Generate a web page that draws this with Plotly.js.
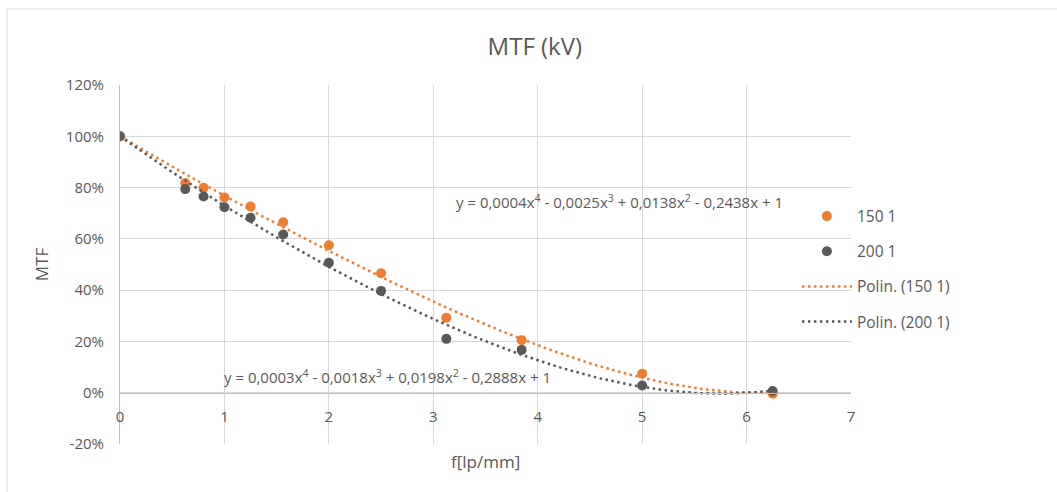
<!DOCTYPE html>
<html>
<head>
<meta charset="utf-8">
<script src="https://cdn.plot.ly/plotly-3.0.1.min.js"></script>
<style>html,body{margin:0;padding:0;background:#fff;}#chart{width:1057px;height:492px;}</style>
</head>
<body>
<div id="chart"></div>
<script>
// Spatial frequencies (lp/mm)
const freq = [0, 0.625, 0.8, 1, 1.25, 1.5625, 2, 2.5, 3.125, 3.846, 5, 6.25];
// MTF values, series "150 1"
const mtf150 = [1.00, 0.818, 0.799, 0.761, 0.726, 0.665, 0.575, 0.466, 0.292, 0.205, 0.074, -0.004];
// MTF values, series "200 1"
const mtf200 = [1.00, 0.794, 0.765, 0.723, 0.682, 0.617, 0.507, 0.397, 0.210, 0.167, 0.028, 0.007];
// Trendline equation coefficients (constant, x, x^2, x^3, x^4) as printed on the chart
const coef150 = [1, -0.2438, 0.0138, -0.0025, 0.0004];
const coef200 = [1, -0.2888, 0.0198, -0.0018, 0.0003];
// Trendline intercept (fixed, as in the printed equations)
const intercept = 1;
const seriesNames = ["150 1", "200 1", "Polin. (150 1)", "Polin. (200 1)"];
const yTickVals = [-0.2, 0, 0.2, 0.4, 0.6, 0.8, 1.0, 1.2];
const yTickText = ["-20%", "0%", "20%", "40%", "60%", "80%", "100%", "120%"];
const xTickVals = [0, 1, 2, 3, 4, 5, 6, 7];

// Least-squares polynomial fit (degree 4) with fixed intercept, like the spreadsheet trendline
function polyFit(xs, ys, deg, b0) {
  const n = deg; // unknowns: coefficients of x^1..x^deg
  const A = [];
  for (let i = 0; i < n; i++) {
    A.push(new Array(n + 1).fill(0));
    for (let j = 0; j < n; j++) A[i][j] = xs.reduce((s, x) => s + Math.pow(x, i + j + 2), 0);
    A[i][n] = xs.reduce((s, x, k) => s + (ys[k] - b0) * Math.pow(x, i + 1), 0);
  }
  for (let c = 0; c < n; c++) {
    let p = c;
    for (let r = c + 1; r < n; r++) if (Math.abs(A[r][c]) > Math.abs(A[p][c])) p = r;
    [A[c], A[p]] = [A[p], A[c]];
    for (let r = 0; r < n; r++) {
      if (r === c) continue;
      const f = A[r][c] / A[c][c];
      for (let k = c; k <= n; k++) A[r][k] -= f * A[c][k];
    }
  }
  return [b0].concat(A.map((row, i) => row[n] / row[i]));
}
function polyEval(c, x) { let s = 0; for (let i = c.length - 1; i >= 0; i--) s = s * x + c[i]; return s; }
function fmtCoef(v) { return Math.abs(v).toFixed(4).replace('.', ','); }
function eqText(c) {
  const sgn = v => (v < 0 ? ' - ' : ' + ');
  return 'y = ' + fmtCoef(c[4]) + 'x<sup>4</sup>' + sgn(c[3]) + fmtCoef(c[3]) + 'x<sup>3</sup>' +
    sgn(c[2]) + fmtCoef(c[2]) + 'x<sup>2</sup>' + sgn(c[1]) + fmtCoef(c[1]) + 'x' + sgn(c[0]) + Math.abs(c[0]);
}
const fit150 = polyFit(freq, mtf150, 4, intercept);
const fit200 = polyFit(freq, mtf200, 4, intercept);
const xMin = Math.min(...freq), xMax = Math.max(...freq);
const trendX = [];
for (let i = 0; i <= 125; i++) trendX.push(xMin + (xMax - xMin) * i / 125);

const orange = '#ED7D31', gray = '#595959', txt = '#595959', grid = '#d9d9d9';
const font = 'Open Sans, sans-serif';

const traces = [
  {x: freq, y: mtf150, type: 'scatter', mode: 'markers', name: seriesNames[0], legendgroup: 'a',
   marker: {color: orange, size: 10}},
  {x: freq, y: mtf200, type: 'scatter', mode: 'markers', name: seriesNames[1], legendgroup: 'b',
   marker: {color: gray, size: 10}},
  {x: trendX, y: trendX.map(x => polyEval(fit150, x)), type: 'scatter', mode: 'lines', name: seriesNames[2], legendgroup: 'c',
   line: {color: orange, width: 2.5, dash: '2.5px,3.5px'}},
  {x: trendX, y: trendX.map(x => polyEval(fit200, x)), type: 'scatter', mode: 'lines', name: seriesNames[3], legendgroup: 'd',
   line: {color: gray, width: 2.5, dash: '2.5px,3.5px'}}
];

const layout = {
  width: 1057, height: 492,
  margin: {l: 120, r: 206, t: 85, b: 48},
  paper_bgcolor: '#fff', plot_bgcolor: '#fff',
  font: {family: font, color: txt, size: 15},
  title: {text: 'MTF (kV)', x: 0.506, xref: 'container', xanchor: 'center', y: 0.905, yref: 'container', yanchor: 'middle',
          font: {family: font, size: 24, color: txt}},
  xaxis: {range: [0, 7], tickvals: xTickVals, showgrid: true, gridcolor: grid, gridwidth: 1,
          zeroline: false, showline: true, linecolor: '#bfbfbf', linewidth: 1,
          anchor: 'free', position: 0.2 / 1.4, ticks: '', ticklabelstandoff: 10,
          tickfont: {size: 15, color: txt, family: font}},
  yaxis: {range: [-0.2, 1.2], tickvals: yTickVals, ticktext: yTickText, showgrid: true, gridcolor: grid,
          zeroline: false, showline: true, linecolor: '#bfbfbf', linewidth: 1, ticks: '',
          ticklabelstandoff: 12, tickfont: {size: 15, color: txt, family: font}},
  showlegend: true,
  legend: {x: 0.926, xanchor: 'left', y: 0.681, yanchor: 'top', bgcolor: 'rgba(0,0,0,0)',
           traceorder: 'grouped', tracegroupgap: 12, itemwidth: 50,
           font: {size: 15.5, color: txt, family: font}},
  annotations: [
    {xref: 'x', yref: 'y', x: 4.78, y: 0.745, text: eqText(coef150), showarrow: false,
     font: {size: 15, color: txt, family: font}},
    {xref: 'x', yref: 'y', x: 2.56, y: 0.062, text: eqText(coef200), showarrow: false,
     font: {size: 15, color: txt, family: font}},
    {xref: 'paper', yref: 'paper', x: 0.5, y: -0.05, yanchor: 'middle', text: 'f[lp/mm]', showarrow: false,
     font: {size: 17, color: txt, family: font}}
  ],
  shapes: [
    {type: 'rect', xref: 'paper', yref: 'paper', x0: (7 - 120) / 731, x1: (1070 - 120) / 731,
     y0: (444 - 520) / 359, y1: (444 - 9) / 359, line: {color: grid, width: 1}, layer: 'below'}
  ]
};
layout.yaxis.title = {text: 'MTF', standoff: 12, font: {size: 17, color: txt, family: font}};

Plotly.newPlot('chart', traces, layout, {displayModeBar: false, staticPlot: true});
</script>
</body>
</html>
